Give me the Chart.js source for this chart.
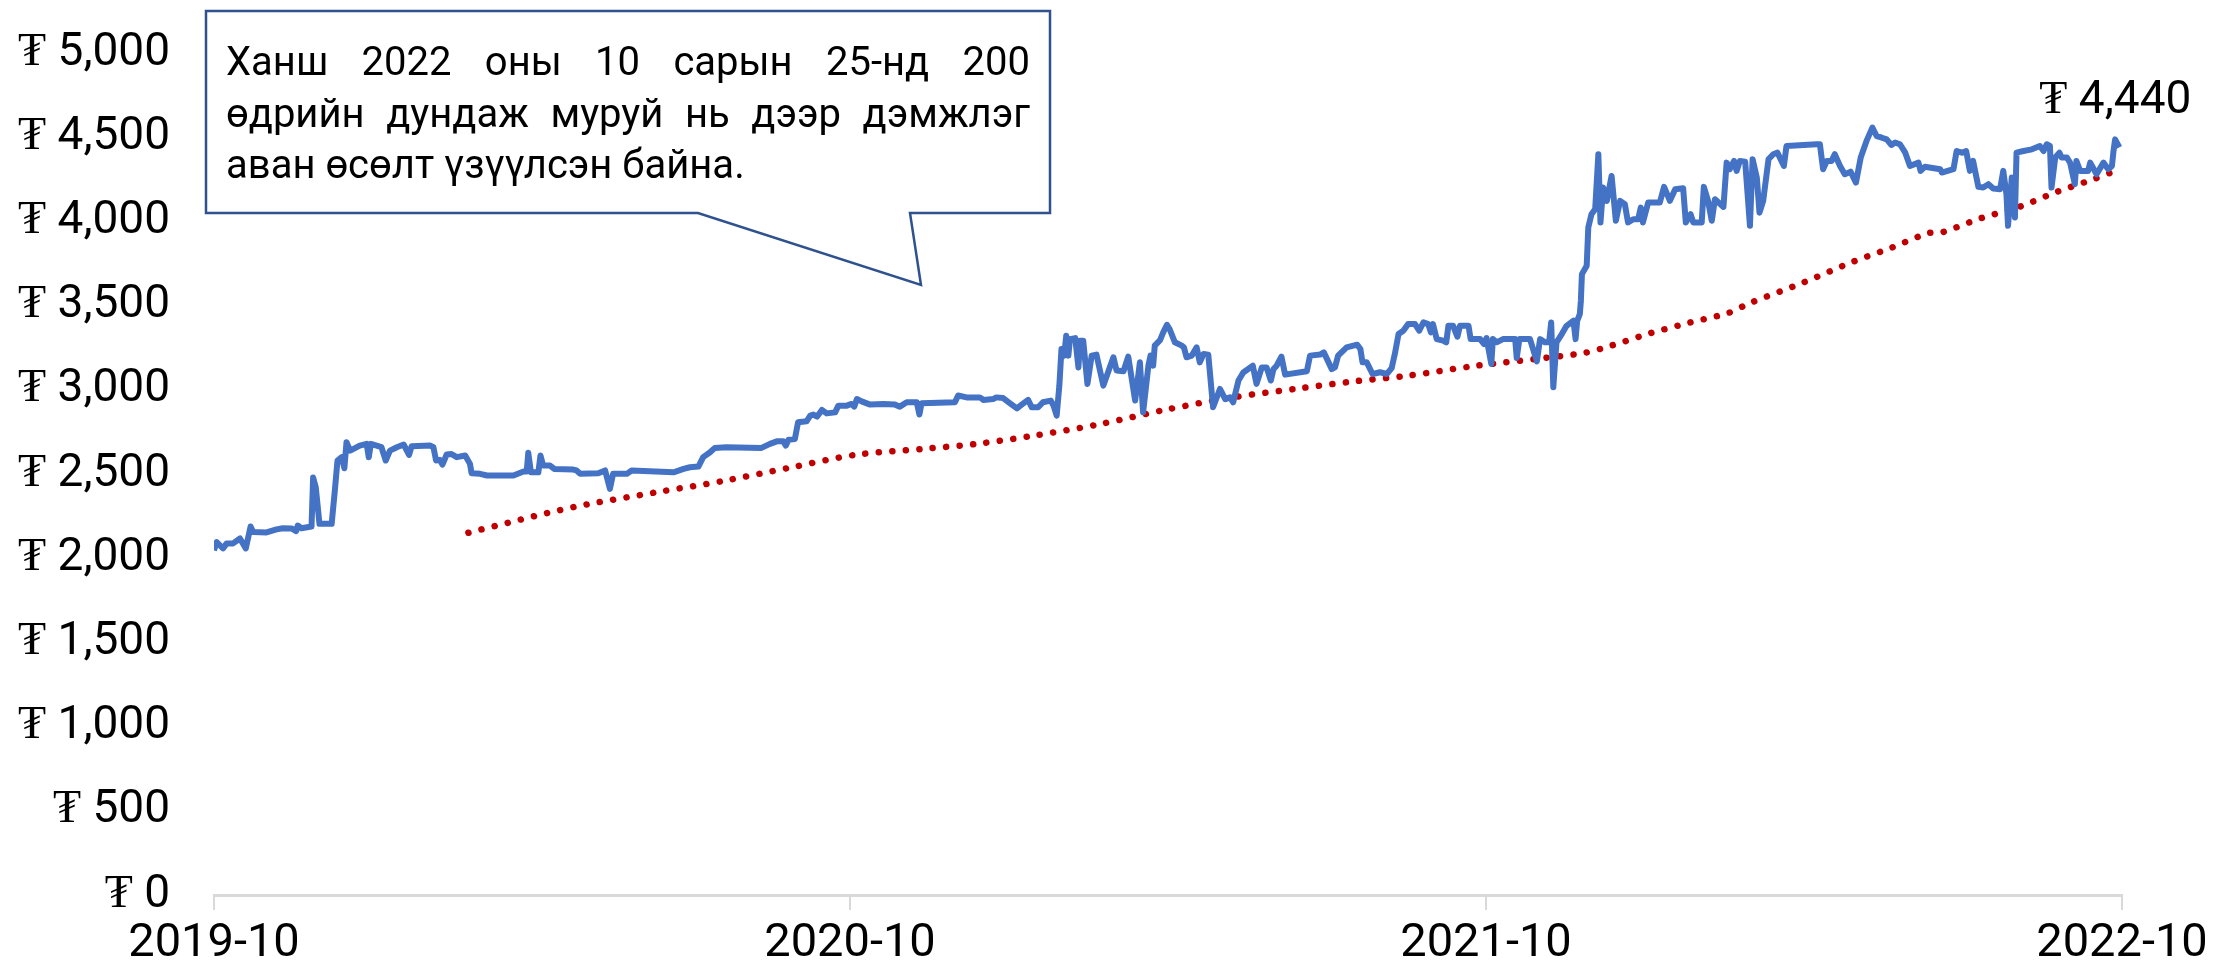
<!DOCTYPE html>
<html>
<head>
<meta charset="utf-8">
<script src="https://cdn.jsdelivr.net/npm/chart.js@4.4.0/dist/chart.umd.min.js"></script>
<style>
  body { margin: 0; background: #fff; }
  canvas { display: block; }
</style>
</head>
<body>
<canvas id="grafico" width="2217" height="972"></canvas>
<script>
// x-тэнхлэг: 2019-10 сараас хойших сар (бутархай)
const xTickLabels = ["2019-10", "2020-10", "2021-10", "2022-10"];

// Ханш (өдөр бүрийн)
const priceMonths = [
  0, 0.05, 0.17, 0.24, 0.36, 0.49, 0.60, 0.69, 0.74, 0.99, 1.18, 1.30, 1.47, 1.55, 1.58, 1.65, 1.84, 1.87, 1.92, 1.99,
  2.22, 2.28, 2.33, 2.41, 2.46, 2.50, 2.57, 2.75, 2.88, 2.92, 2.96, 3.16, 3.24, 3.32, 3.45, 3.58, 3.68, 3.73, 4.08, 4.14,
  4.19, 4.26, 4.31, 4.39, 4.48, 4.58, 4.74, 4.83, 4.86, 5.02, 5.15, 5.65, 5.84, 5.90, 5.93, 5.98, 6.12, 6.16, 6.21, 6.34,
  6.42, 6.78, 6.84, 6.91, 7.25, 7.38, 7.47, 7.53, 7.79, 7.88, 8.67, 8.86, 8.98, 9.14, 9.23, 9.36, 9.45, 9.67, 10.33, 10.49,
  10.62, 10.74, 10.79, 10.84, 10.96, 11.02, 11.18, 11.25, 11.31, 11.38, 11.47, 11.56, 11.72, 11.78, 11.94, 12.03, 12.08, 12.13, 12.22, 12.38,
  12.63, 12.85, 12.94, 13.07, 13.26, 13.31, 13.35, 13.98, 14.04, 14.20, 14.45, 14.52, 14.70, 14.76, 14.89, 15.02, 15.15, 15.24, 15.36, 15.43,
  15.55, 15.64, 15.79, 15.84, 15.90, 15.95, 15.99, 16.04, 16.08, 16.12, 16.15, 16.25, 16.31, 16.34, 16.40, 16.48, 16.56, 16.65, 16.78, 16.97,
  17.03, 17.16, 17.25, 17.38, 17.47, 17.53, 17.63, 17.67, 17.72, 17.75, 17.85, 17.91, 17.98, 18.03, 18.13, 18.26, 18.30, 18.35, 18.45, 18.54,
  18.60, 18.67, 18.76, 18.85, 18.98, 19.08, 19.17, 19.23, 19.33, 19.42, 19.60, 19.67, 19.77, 19.86, 19.94, 19.99, 20.05, 20.14, 20.21, 20.62,
  20.68, 20.87, 20.94, 21.09, 21.15, 21.21, 21.37, 21.57, 21.63, 21.67, 21.75, 21.86, 22.00, 22.13, 22.22, 22.28, 22.35, 22.44, 22.53, 22.66,
  22.74, 22.82, 22.91, 22.96, 23.00, 23.07, 23.19, 23.25, 23.29, 23.38, 23.46, 23.51, 23.67, 23.71, 23.89, 23.96, 24.01, 24.10, 24.13, 24.20,
  24.32, 24.55, 24.58, 24.63, 24.83, 24.96, 25.02, 25.11, 25.19, 25.23, 25.27, 25.33, 25.43, 25.52, 25.65, 25.69, 25.72, 25.77, 25.79, 25.81,
  25.90, 25.93, 25.99, 26.06, 26.12, 26.16, 26.21, 26.28, 26.37, 26.45, 26.53, 26.62, 26.68, 26.78, 26.87, 26.92, 26.96, 27.06, 27.28, 27.36,
  27.47, 27.57, 27.72, 27.77, 27.86, 27.91, 28.07, 28.11, 28.19, 28.26, 28.32, 28.48, 28.54, 28.60, 28.68, 28.73, 28.79, 28.89, 28.98, 29.03,
  29.11, 29.16, 29.23, 29.33, 29.42, 29.50, 29.62, 29.67, 30.24, 30.30, 30.36, 30.43, 30.52, 30.58, 30.68, 30.77, 30.88, 30.98, 31.07, 31.18,
  31.29, 31.37, 31.47, 31.56, 31.65, 31.72, 31.81, 31.91, 32.00, 32.16, 32.20, 32.28, 32.57, 32.60, 32.82, 32.88, 32.98, 33.06, 33.13, 33.19,
  33.29, 33.38, 33.48, 33.57, 33.70, 33.76, 33.82, 33.85, 33.92, 33.98, 34.01, 34.14, 34.30, 34.45, 34.52, 34.58, 34.64, 34.67, 34.74, 34.82,
  34.86, 34.96, 35.02, 35.11, 35.14, 35.21, 35.36, 35.40, 35.52, 35.65, 35.74, 35.81, 35.84, 35.87, 35.95
];
const priceValues = [
  2046, 2095, 2058, 2088, 2088, 2117, 2058, 2188, 2155, 2153, 2171, 2178, 2176, 2161, 2194, 2178, 2188, 2479, 2421, 2204,
  2204, 2402, 2580, 2600, 2534, 2689, 2639, 2669, 2679, 2600, 2679, 2659, 2580, 2639, 2659, 2675, 2613, 2665, 2669, 2659,
  2580, 2584, 2556, 2616, 2619, 2600, 2610, 2560, 2504, 2501, 2491, 2491, 2515, 2515, 2626, 2510, 2510, 2610, 2550, 2550,
  2530, 2526, 2521, 2501, 2504, 2521, 2412, 2501, 2501, 2521, 2510, 2530, 2540, 2544, 2600, 2629, 2655, 2659, 2655, 2679,
  2694, 2694, 2669, 2704, 2708, 2807, 2813, 2847, 2853, 2841, 2880, 2860, 2866, 2906, 2906, 2916, 2900, 2945, 2931, 2912,
  2916, 2912, 2900, 2926, 2926, 2853, 2920, 2926, 2966, 2955, 2955, 2940, 2945, 2955, 2951, 2920, 2890, 2912, 2940, 2896,
  2896, 2926, 2936, 2906, 2847, 3025, 3242, 3203, 3321, 3203, 3301, 3307, 3133, 3292, 3292, 3035, 3203, 3209, 3025, 3193,
  3114, 3110, 3197, 2936, 3163, 2866, 3143, 3203, 3143, 3262, 3295, 3341, 3386, 3361, 3282, 3262, 3252, 3193, 3203, 3252,
  3163, 3213, 3209, 2896, 3005, 2945, 2955, 2926, 3055, 3103, 3143, 3035, 3133, 3133, 3055, 3123, 3143, 3197, 3090, 3110,
  3203, 3209, 3222, 3123, 3133, 3203, 3252, 3268, 3242, 3163, 3163, 3094, 3104, 3094, 3129, 3213, 3331, 3351, 3390, 3390,
  3351, 3400, 3390, 3341, 3390, 3301, 3292, 3282, 3380, 3380, 3315, 3380, 3380, 3301, 3301, 3272, 3307, 3153, 3301, 3282,
  3301, 3301, 3189, 3301, 3301, 3169, 3301, 3282, 3282, 3400, 3015, 3282, 3331, 3380, 3410, 3301, 3410, 3449, 3529, 3687,
  3737, 3964, 4043, 4073, 4399, 3994, 4201, 4122, 4270, 4004, 4122, 4102, 3994, 4013, 4013, 4082, 3994, 4112, 4112, 4205,
  4122, 4191, 4197, 3994, 4043, 3994, 3994, 4205, 4122, 4004, 4132, 4086, 4349, 4310, 4359, 4300, 4359, 4355, 3974, 4369,
  4260, 4052, 4122, 4369, 4399, 4408, 4329, 4448, 4458, 4458, 4310, 4359, 4359, 4399, 4329, 4280, 4295, 4230, 4379, 4478,
  4557, 4507, 4497, 4487, 4454, 4468, 4458, 4408, 4329, 4349, 4300, 4324, 4310, 4290, 4310, 4418, 4408, 4418, 4300, 4359,
  4205, 4201, 4221, 4195, 4191, 4300, 4161, 3974, 4260, 4023, 4408, 4418, 4428, 4448, 4418, 4458, 4448, 4201, 4379, 4408,
  4379, 4379, 4349, 4221, 4359, 4300, 4300, 4349, 4280, 4349, 4310, 4329, 4418, 4487, 4440
];

// 200 өдрийн дундаж
const maMonths = [
  4.80, 5.54, 6.30, 7.03, 8.32, 9.58, 10.84, 12.11, 13.38, 14.39, 15.44, 16.70, 17.96, 19.22, 20.49, 21.51,
  22.53, 23.82, 25.09, 25.87, 26.36, 27.09, 27.83, 28.57, 28.98, 29.98, 30.92, 31.63, 32.34, 32.59, 33.32,
  34.06, 34.77, 35.49, 35.83
];
const maValues = [
  2151, 2210, 2269, 2319, 2390, 2457, 2536, 2614, 2649, 2679, 2726, 2795, 2882, 2955, 3009, 3050,
  3084, 3143, 3189, 3220, 3262, 3335, 3398, 3456, 3515, 3636, 3760, 3841, 3930, 3934, 4017,
  4086, 4175, 4254, 4295
];

const calloutLines = [
  "Ханш 2022 оны 10 сарын 25-нд 200",
  "өдрийн дундаж муруй нь дээр дэмжлэг",
  "аван өсөлт үзүүлсэн байна."
];

const FONT = "Roboto, 'Liberation Serif', 'DejaVu Sans', sans-serif";
const fmt = (v) => "₮ " + v.toLocaleString("en-US");

Chart.defaults.font.family = FONT;
Chart.defaults.color = "#000";

// Сүүлийн утгын шошго
const lastLabel = {
  id: "lastLabel",
  afterDatasetsDraw(chart) {
    const meta = chart.getDatasetMeta(0);
    const pt = meta.data[meta.data.length - 1];
    const ctx = chart.ctx;
    ctx.save();
    ctx.font = "46px " + FONT;
    ctx.fillStyle = "#000";
    ctx.textAlign = "center";
    ctx.textBaseline = "alphabetic";
    ctx.fillText(fmt(priceValues[priceValues.length - 1]), pt.x - 4, pt.y - 34);
    ctx.restore();
  }
};

// Тайлбар хайрцаг
const callout = {
  id: "callout",
  afterDraw(chart) {
    const ctx = chart.ctx;
    ctx.save();
    ctx.beginPath();
    ctx.moveTo(206, 11);
    ctx.lineTo(1050, 11);
    ctx.lineTo(1050, 213);
    ctx.lineTo(910, 213);
    ctx.lineTo(921, 285);
    ctx.lineTo(698, 213);
    ctx.lineTo(206, 213);
    ctx.closePath();
    ctx.fillStyle = "#fff";
    ctx.fill();
    ctx.lineWidth = 2.5;
    ctx.strokeStyle = "#2F528F";
    ctx.stroke();

    ctx.font = "40px " + FONT;
    ctx.fillStyle = "#000";
    ctx.textBaseline = "alphabetic";
    const left = 226, right = 1030;
    const baselines = [75, 127, 178];
    calloutLines.forEach((line, i) => {
      const words = line.split(" ");
      if (i < calloutLines.length - 1) {
        const wordsW = words.reduce((s, w) => s + ctx.measureText(w).width, 0);
        const gap = (right - left - wordsW) / (words.length - 1);
        let x = left;
        words.forEach((w) => {
          ctx.fillText(w, x, baselines[i]);
          x += ctx.measureText(w).width + gap;
        });
      } else {
        ctx.fillText(line, left, baselines[i]);
      }
    });
    ctx.restore();
  }
};

const ctx = document.getElementById("grafico").getContext("2d");
new Chart(ctx, {
  type: "line",
  data: {
    datasets: [
      {
        label: "Ханш",
        data: priceMonths.map((m, i) => ({ x: m, y: priceValues[i] })),
        borderColor: "#4472C4",
        borderWidth: 6,
        pointRadius: 0,
        tension: 0,
        borderJoinStyle: "round",
      },
      {
        label: "200 өдрийн дундаж",
        data: maMonths.map((m, i) => ({ x: m, y: maValues[i] })),
        borderColor: "#C00000",
        borderWidth: 6.5,
        borderDash: [0.1, 13.4],
        borderCapStyle: "round",
        pointRadius: 0,
        tension: 0.3,
      },
    ],
  },
  options: {
    responsive: false,
    animation: false,
    devicePixelRatio: 1,
    layout: { padding: { top: 53, right: 95, left: 0, bottom: 0 } },
    plugins: { legend: { display: false }, tooltip: { enabled: false } },
    scales: {
      x: {
        type: "linear",
        min: 0,
        max: 36,
        afterFit: (s) => { s.height = 77; },
        afterBuildTicks: (s) => { s.ticks = [0, 12, 24, 36].map((v) => ({ value: v })); },
        ticks: {
          font: { size: 47 },
          padding: 6,
          maxRotation: 0,
          callback: (v) => xTickLabels[v / 12],
        },
        grid: { display: true, drawOnChartArea: false, tickLength: 15, color: "#D9D9D9", lineWidth: 2 },
        border: { display: true, color: "#D9D9D9", width: 3 },
      },
      y: {
        min: 0,
        max: 5000,
        afterFit: (s) => { s.width = 214; },
        ticks: {
          stepSize: 500,
          font: { size: 46 },
          padding: 0,
          callback: (v) => fmt(v),
        },
        grid: { display: false, drawTicks: true, tickLength: 44 },
        border: { display: false },
      },
    },
  },
  plugins: [lastLabel, callout],
});
</script>
</body>
</html>
